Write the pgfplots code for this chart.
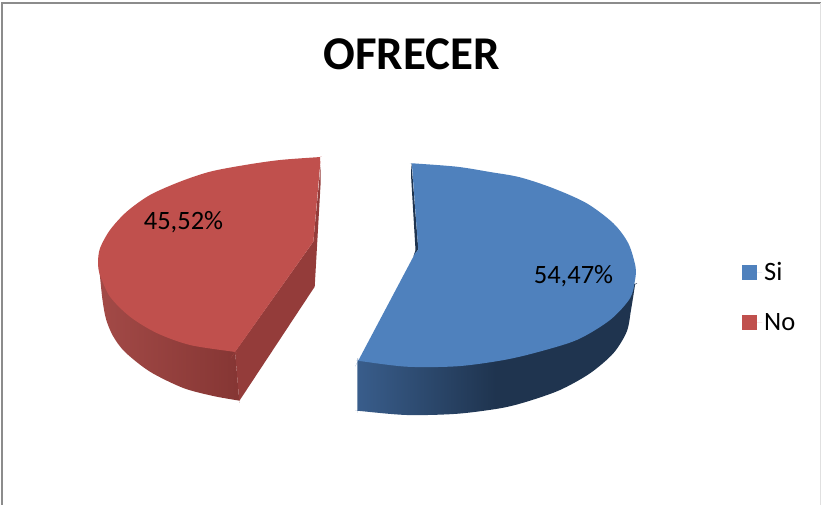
\documentclass[border=0pt]{standalone}
\usepackage{fontspec}
\setmainfont{Carlito}
\usepackage{pgfplots}
\pgfplotsset{compat=1.18}
\definecolor{blueT}{HTML}{4F81BD}
\definecolor{redT}{HTML}{C0504D}
\definecolor{blueA}{HTML}{3A5F8E}
\definecolor{blueB}{HTML}{1F344F}
\definecolor{redA}{HTML}{A34A47}
\definecolor{redB}{HTML}{843533}
\definecolor{redF}{HTML}{943C3A}
\definecolor{frameC}{HTML}{8C8C8C}
\begin{document}
\begin{tikzpicture}[x=1pt,y=1pt]
\useasboundingbox (0,0) rectangle (821,505);
\begin{axis}[
  at={(0,0)}, anchor=south west,
  scale only axis, width=821pt, height=505pt,
  xmin=0, xmax=821, ymin=0, ymax=505, y dir=reverse,
  hide axis, clip=true,
  legend style={at={(axis cs:742,260.5)}, anchor=north west, draw=none, fill=none,
    font=\fontsize{26.5}{26.5}\selectfont, row sep=27pt, inner sep=0pt},
  legend cell align=left,
  legend image code/.code={\fill[#1] (0pt,-7.5pt) rectangle (15pt,7.5pt); \path (0pt,0pt) -- (20pt,0pt);},
]
% frame
\addplot[forget plot, draw=frameC, line width=2pt] coordinates {(2,505) (2,3) (821,3)};
\addplot[forget plot, draw=black!12, line width=1pt] coordinates {(820.5,3) (820.5,505)};
% red slice: curved side
\addplot[forget plot, smooth, draw=none, left color=redA, right color=redB] coordinates {
 (98.5,264) (100,276.7) (102.5,300) (106,319) (113,336) (125,352) (150,371.7) (183.3,388) (213.3,396)
 (238.3,400.5) (239.3,400.9) (239.2,400) (235.2,353) (235,352) (234,351.5) (160,300) (99,264.6)};
% red slice: cut face
\addplot[forget plot, draw=none, fill=redF] coordinates {
 (320.7,165) (320.7,181.7) (314.7,286.7) (239.3,400.9) (235,351.7) (313.3,241.7)};
% blue slice: curved side
\addplot[forget plot, smooth, draw=none, left color=blueA, right color=blueB, middle color=blueB] coordinates {
 (358.3,360.7) (357.5,361.2) (357.3,410) (357.3,410.7) (358,410.8) (406.7,415) (456.7,413.8) (500,408.3)
 (526.7,401.7) (560,390) (590,373.3) (613.3,353.3) (626.7,331.7) (631,310) (635,285) (634.9,284) (600,280) (500,300) (359,360)};
% blue slice: cut face sliver
\addplot[forget plot, draw=none, fill=blueB] coordinates {
 (411.5,163.3) (411,175) (415.5,250) (413.3,256.7) (418.3,249.3)};
% top faces
\addplot[smooth, draw=none, fill=blueT] coordinates {
 (411.9,164) (411.7,163.3) (412.5,163.3) (456.7,166.7) (490,172) (520,177.3) (553.3,188.3) (586.7,203.3) (613.3,223.3) (628.3,243.3)
 (635.5,266.7) (635,280) (630,298.3) (610,320) (576.7,340) (533.3,353.3) (500,360.7) (456.7,366.3) (406.7,366.7)
 (359,360.9) (358.3,360.7) (358.6,360) (413,257.3) (413.3,256.7) (418.3,249.3) (418.2,248.5)};
\addlegendentry{Si}
\addplot[smooth, draw=none, fill=redT] coordinates {
 (320.3,163) (320,157) (319,157.1) (280,160) (245,165) (210,171.7) (180,181.7) (150,195) (126.7,211.7) (110,230) (100,248.3) (98,263)
 (100,275) (110,296.7) (130,316.7) (156.7,333) (190,345) (234,351.8) (235,352) (235.6,351.2) (312.8,242.4) (313.3,241.7) (313.4,240.7)};
\addlegendentry{No}
% labels
\node[anchor=center, font=\fontsize{26.5}{26.5}\selectfont, inner sep=0pt] at (axis cs:183.5,222) {45,52\%};
\node[anchor=center, font=\fontsize{26.5}{26.5}\selectfont, inner sep=0pt] at (axis cs:573.5,276) {54,47\%};
\node[anchor=center, font=\fontsize{47}{47}\bfseries, inner sep=0pt] at (axis cs:411.5,54.5) {OFRECER};
\end{axis}
\end{tikzpicture}
\end{document}
